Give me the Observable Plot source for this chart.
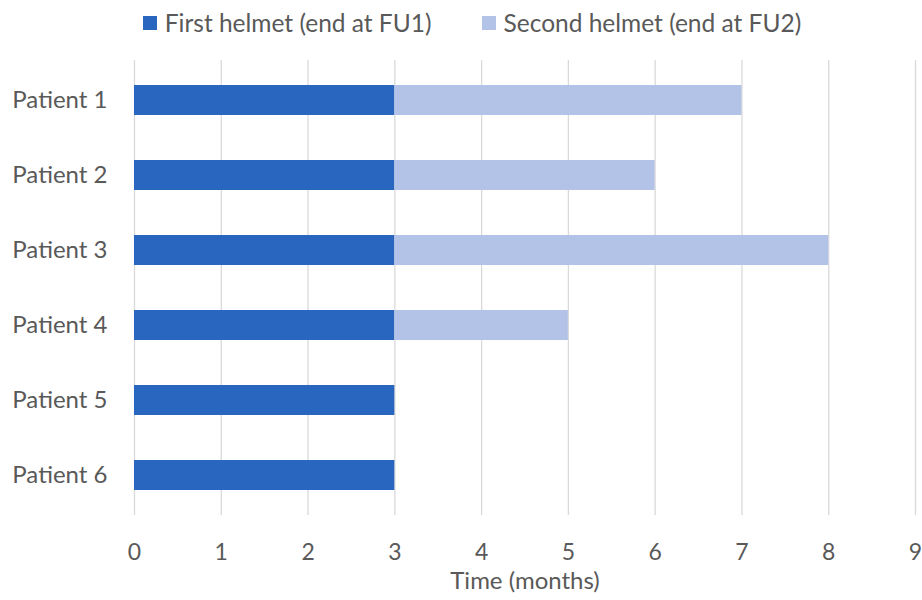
<!DOCTYPE html>
<html>
<head>
<meta charset="utf-8">
<script src="https://cdn.jsdelivr.net/npm/d3@7"></script>
<script src="https://cdn.jsdelivr.net/npm/@observablehq/plot@0.6"></script>
<style>
  html, body { margin: 0; padding: 0; background: #fff; }
  body { width: 922px; font-family: Lato, "Open Sans", sans-serif; color: #595959; }
  #legend { height: 45px; display: flex; justify-content: center; align-items: center; gap: 50px; font-size: 24.5px; padding-left: 22px; box-sizing: border-box; }
  #legend .item { display: flex; align-items: center; gap: 8px; }
  #legend .sw { width: 14px; height: 14px; display: inline-block; }
</style>
</head>
<body>
<div id="legend"></div>
<div id="chart"></div>
<script>
const patients = ["Patient 1", "Patient 2", "Patient 3", "Patient 4", "Patient 5", "Patient 6"];
const firstHelmet = [3, 3, 3, 3, 3, 3];   // months, start to FU1
const secondHelmet = [4, 3, 5, 2, 0, 0];  // months, FU1 to FU2
const seriesNames = ["First helmet (end at FU1)", "Second helmet (end at FU2)"];
const seriesColors = ["#2966c0", "#b3c3e7"];
const xTicks = [0, 1, 2, 3, 4, 5, 6, 7, 8, 9];

const rows = [];
patients.forEach((p, i) => {
  rows.push({patient: p, series: seriesNames[0], months: firstHelmet[i]});
  rows.push({patient: p, series: seriesNames[1], months: secondHelmet[i]});
});

const legend = document.getElementById("legend");
seriesNames.forEach((name, i) => {
  const item = document.createElement("div");
  item.className = "item";
  const sw = document.createElement("span");
  sw.className = "sw";
  sw.style.background = seriesColors[i];
  const label = document.createElement("span");
  label.textContent = name;
  item.append(sw, label);
  legend.append(item);
});

const font = "Lato, 'Open Sans', sans-serif";
const chart = Plot.plot({
  width: 922,
  height: 555,
  marginLeft: 134,
  marginRight: 7,
  marginTop: 15,
  marginBottom: 85,
  style: {fontFamily: font, color: "#595959", background: "#fff"},
  x: {domain: [0, 9]},
  y: {domain: patients, paddingInner: 0.604, paddingOuter: 0.302},
  color: {domain: seriesNames, range: seriesColors},
  marks: [
    Plot.gridX(xTicks, {stroke: "#d9d9d9", strokeOpacity: 1, strokeWidth: 1.3}),
    Plot.barX(rows, Plot.stackX({x: "months", y: "patient", fill: "series", order: seriesNames})),
    Plot.axisX({ticks: xTicks, tickSize: 0, tickPadding: 28, fontSize: 23, fill: "#595959", label: null}),
    Plot.axisY({tickSize: 0, tickPadding: 27, fontSize: 24, fill: "#595959", label: null}),
    Plot.text(["Time (months)"], {frameAnchor: "bottom", dy: 73, fontSize: 24, fill: "#595959"})
  ]
});
document.getElementById("chart").append(chart);
</script>
</body>
</html>
